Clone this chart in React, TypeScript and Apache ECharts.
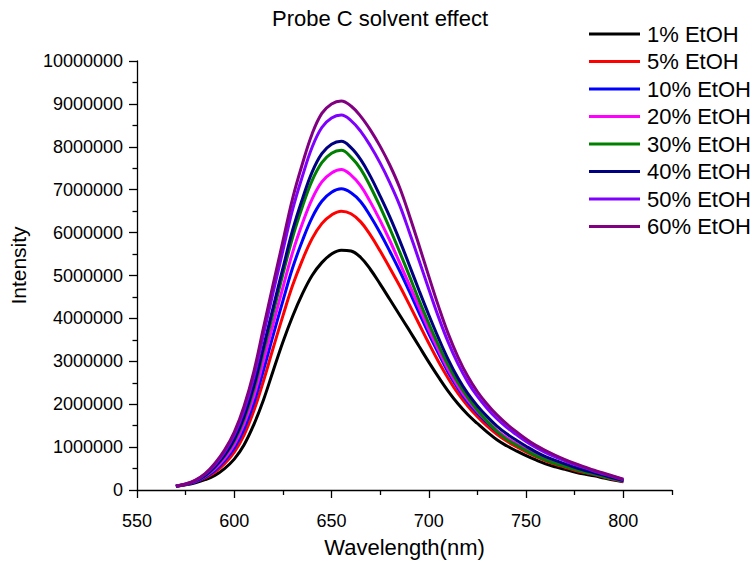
import React, { useEffect, useRef } from "react";
import * as echarts from "echarts";

const wavelengths = [570,575,580,585,590,595,600,605,610,615,620,625,630,635,640,645,650,655,660,665,670,675,680,685,690,695,700,705,710,715,720,725,730,735,740,745,750,755,760,765,770,775,780,785,790,795,800];

// intensities in millions
const etoh1 = [0.09,0.12,0.17,0.24,0.34,0.50,0.72,1.05,1.52,2.10,2.78,3.45,4.05,4.57,5.00,5.30,5.50,5.59,5.57,5.42,5.14,4.80,4.44,4.08,3.72,3.35,2.98,2.63,2.30,2.01,1.76,1.55,1.35,1.17,1.03,0.91,0.80,0.70,0.61,0.54,0.48,0.42,0.37,0.33,0.28,0.23,0.19];
const etoh5 = [0.09,0.13,0.19,0.28,0.41,0.61,0.88,1.28,1.84,2.54,3.31,4.06,4.77,5.36,5.86,6.21,6.41,6.50,6.44,6.25,5.94,5.57,5.17,4.76,4.32,3.87,3.42,2.99,2.60,2.25,1.96,1.71,1.49,1.30,1.14,1.01,0.89,0.78,0.68,0.60,0.53,0.46,0.41,0.36,0.30,0.25,0.20];
const etoh10 = [0.09,0.13,0.19,0.30,0.45,0.68,0.98,1.42,2.02,2.79,3.61,4.41,5.18,5.81,6.35,6.73,6.94,7.02,6.93,6.72,6.38,5.99,5.56,5.11,4.63,4.13,3.64,3.18,2.74,2.37,2.05,1.79,1.57,1.36,1.20,1.06,0.93,0.81,0.71,0.63,0.56,0.49,0.43,0.37,0.32,0.26,0.21];
const etoh20 = [0.09,0.13,0.20,0.32,0.49,0.73,1.06,1.54,2.18,3.01,3.87,4.72,5.54,6.21,6.78,7.18,7.39,7.47,7.34,7.09,6.71,6.28,5.81,5.30,4.78,4.26,3.74,3.26,2.81,2.42,2.10,1.83,1.60,1.39,1.22,1.08,0.95,0.83,0.73,0.64,0.57,0.50,0.44,0.38,0.32,0.26,0.21];
const etoh30 = [0.09,0.13,0.21,0.33,0.53,0.79,1.14,1.65,2.34,3.23,4.13,5.03,5.89,6.60,7.21,7.63,7.85,7.92,7.76,7.48,7.07,6.60,6.09,5.55,4.99,4.42,3.88,3.37,2.90,2.50,2.16,1.86,1.60,1.37,1.18,1.05,0.92,0.80,0.70,0.62,0.55,0.48,0.42,0.37,0.31,0.26,0.21];
const etoh40 = [0.09,0.13,0.21,0.34,0.54,0.81,1.18,1.71,2.42,3.33,4.26,5.17,6.06,6.78,7.41,7.84,8.06,8.13,7.98,7.70,7.31,6.85,6.36,5.82,5.24,4.65,4.08,3.54,3.04,2.61,2.25,1.96,1.71,1.49,1.31,1.16,1.02,0.89,0.78,0.69,0.61,0.53,0.46,0.40,0.34,0.28,0.22];
const etoh50 = [0.09,0.14,0.22,0.37,0.59,0.89,1.29,1.86,2.63,3.62,4.61,5.58,6.54,7.31,7.99,8.45,8.67,8.74,8.61,8.36,8.02,7.62,7.16,6.64,6.01,5.35,4.68,4.03,3.44,2.94,2.52,2.18,1.90,1.66,1.46,1.29,1.13,0.99,0.87,0.77,0.68,0.59,0.52,0.44,0.37,0.31,0.24];
const etoh60 = [0.09,0.14,0.23,0.38,0.62,0.93,1.35,1.95,2.75,3.78,4.80,5.80,6.80,7.60,8.30,8.78,9.00,9.07,8.95,8.71,8.39,8.01,7.57,7.05,6.40,5.70,4.98,4.28,3.64,3.10,2.65,2.29,2.00,1.75,1.54,1.36,1.19,1.04,0.92,0.81,0.71,0.62,0.54,0.46,0.39,0.32,0.25];

const seriesNames = ["1% EtOH","5% EtOH","10% EtOH","20% EtOH","30% EtOH","40% EtOH","50% EtOH","60% EtOH"];
const seriesValues = [etoh1, etoh5, etoh10, etoh20, etoh30, etoh40, etoh50, etoh60];
const seriesColors = ["#000000","#ff0000","#0000ff","#ff00ff","#008000","#000080","#8000ff","#800080"];

const xMajorTicks = [550,600,650,700,750,800];
const xMinorTicks = [575,625,675,725,775,825];
const UNIT = 1000000;

const FONT = "Liberation Sans, Arial, sans-serif";

export default function App() {
  const ref = useRef<HTMLDivElement>(null);
  useEffect(() => {
    if (!ref.current) return;
    const chart = echarts.init(ref.current, null, { renderer: "svg" });
    const axisColor = "#000";
    chart.setOption({
      animation: false,
      backgroundColor: "#fff",
      title: {
        text: "Probe C solvent effect",
        left: 272,
        top: 7,
        padding: 0,
        textStyle: { fontFamily: FONT, fontSize: 22, fontWeight: "normal", color: "#000" },
      },
      legend: {
        orient: "vertical",
        left: 589,
        top: 23,
        padding: 0,
        icon: "rect",
        itemWidth: 51,
        itemHeight: 3,
        itemGap: 5.5,
        textStyle: { fontFamily: FONT, fontSize: 22, lineHeight: 22, color: "#000", padding: [0, 0, 0, 2] },
        data: seriesNames,
      },
      grid: { left: 137, right: 81, top: 61, bottom: 73 },
      xAxis: [
        {
          type: "value",
          min: 550,
          max: 825,
          interval: 50,
          name: "Wavelength(nm)",
          nameLocation: "middle",
          nameGap: 46,
          nameTextStyle: { fontFamily: FONT, fontSize: 22, color: "#000" },
          axisLine: { show: true, lineStyle: { color: axisColor, width: 1.3 } },
          axisTick: { show: true, length: 8, customValues: xMajorTicks, lineStyle: { color: axisColor, width: 1.3 } },
          axisLabel: {
            customValues: xMajorTicks,
            fontFamily: FONT,
            fontSize: 18,
            color: "#000",
            margin: 22,
            formatter: (v: number) => String(v),
          },
          splitLine: { show: false },
        },
        {
          type: "value",
          min: 550,
          max: 825,
          position: "bottom",
          axisLine: { show: false },
          axisTick: { show: true, length: 5, customValues: xMinorTicks, lineStyle: { color: axisColor, width: 1.3 } },
          axisLabel: { show: false },
          splitLine: { show: false },
        },
      ],
      yAxis: {
        type: "value",
        min: 0,
        max: 10000000,
        interval: 1000000,
        name: "Intensity",
        nameLocation: "middle",
        nameGap: 108,
        nameTextStyle: { fontFamily: FONT, fontSize: 21, color: "#000", padding: [0, 0, 0, 20] },
        axisLine: { show: true, lineStyle: { color: axisColor, width: 1.3 } },
        axisTick: { show: true, length: 8, lineStyle: { color: axisColor, width: 1.3 } },
        minorTick: { show: true, splitNumber: 2, length: 4.5, lineStyle: { color: axisColor, width: 1.3 } },
        axisLabel: {
          fontFamily: FONT,
          fontSize: 18,
          color: "#000",
          margin: 14,
          formatter: (v: number) => String(v),
        },
        splitLine: { show: false },
      },
      series: seriesNames.map((name, i) => ({
        name,
        type: "line",
        xAxisIndex: 0,
        data: wavelengths.map((w, j) => [w, seriesValues[i][j] * UNIT]),
        showSymbol: false,
        symbol: "none",
        smooth: 0.4,
        lineStyle: { color: seriesColors[i], width: 3 },
        itemStyle: { color: seriesColors[i] },
      })),
    });
    return () => chart.dispose();
  }, []);
  return <div ref={ref} style={{ position: "fixed", left: 0, top: 0, width: 753, height: 563 }} />;
}
